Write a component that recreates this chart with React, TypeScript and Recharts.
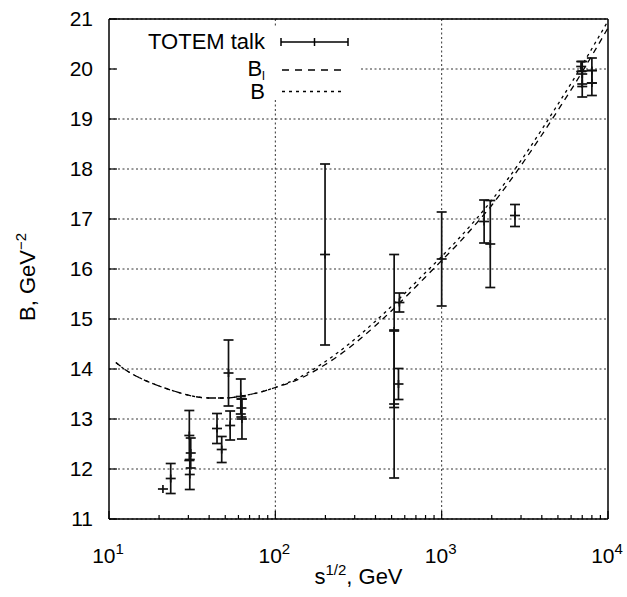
import React from 'react';
import { ComposedChart, Scatter, ErrorBar, Line, XAxis, YAxis, CartesianGrid } from 'recharts';

const FONT = '"Liberation Sans", Arial, Helvetica, sans-serif';

// TOTEM talk points: sqrt(s) in GeV, slope B in GeV^-2 and its error
const pointEnergy = [21.1, 23.5, 30.4, 31.0, 30.6, 44.6, 47.6, 52.3, 53.5, 62.0, 62.5, 63.0, 199, 518, 518, 550, 557, 1000, 1800, 1960, 2760, 6900, 7000, 7000, 8000, 8000];
const pointSlope = [11.6, 11.81, 12.67, 12.32, 11.89, 12.81, 12.39, 13.92, 12.87, 13.45, 13.22, 13.0, 16.29, 14.76, 13.3, 13.7, 15.33, 16.2, 16.95, 16.5, 17.07, 20.05, 19.9, 19.7, 19.97, 19.72];
const pointError = [0, 0.3, 0.5, 0.3, 0.3, 0.3, 0.26, 0.66, 0.29, 0.35, 0.18, 0.4, 1.81, 1.53, 1.48, 0.31, 0.19, 0.94, 0.43, 0.87, 0.22, 0.1, 0.25, 0.26, 0.25, 0.25];

// model curves
const curveEnergy = [11, 12.6, 15.8, 20, 25.1, 31.6, 39.8, 50.1, 63.1, 79.4, 100, 141, 200, 282, 398, 562, 794, 1000, 1259, 1585, 1995, 2512, 3162, 3981, 5012, 6310, 7943, 10000];
const curveB = [14.13, 13.98, 13.8, 13.66, 13.55, 13.46, 13.42, 13.42, 13.46, 13.53, 13.63, 13.84, 14.15, 14.52, 14.95, 15.42, 15.92, 16.25, 16.6, 16.97, 17.37, 17.81, 18.28, 18.78, 19.3, 19.83, 20.39, 20.96];
const curveBl = [14.13, 13.98, 13.8, 13.66, 13.55, 13.46, 13.42, 13.42, 13.46, 13.53, 13.63, 13.81, 14.09, 14.44, 14.86, 15.33, 15.83, 16.17, 16.51, 16.88, 17.27, 17.71, 18.18, 18.67, 19.18, 19.7, 20.25, 20.82];

const majorX = [10, 100, 1000, 10000];
const minorX = [20, 30, 40, 50, 60, 70, 80, 90, 200, 300, 400, 500, 600, 700, 800, 900, 2000, 3000, 4000, 5000, 6000, 7000, 8000, 9000];
const allX = [...majorX, ...minorX].sort((a, b) => a - b);
const yTicks = [11, 12, 13, 14, 15, 16, 17, 18, 19, 20, 21];

const points = pointEnergy.map((x, i) => ({ x, y: pointSlope[i], e: pointError[i] }));
const bData = curveEnergy.map((x, i) => ({ x, y: curveB[i] }));
const blData = curveEnergy.map((x, i) => ({ x, y: curveBl[i] }));

const AXIS_LINE = { stroke: '#000', strokeWidth: 1.5 };
const TICK_LINE = { stroke: '#000', strokeWidth: 1.2 };

const Cross = (p: any) => {
    const { cx, cy } = p;
    if (cx == null || cy == null) return null;
    return (
        <g stroke="#111" strokeWidth={1.7}>
            <line x1={cx - 5} y1={cy} x2={cx + 5} y2={cy} />
            <line x1={cx} y1={cy - 4} x2={cx} y2={cy + 4} />
        </g>
    );
};

// bottom axis: inward tick marks (long on decades) plus 10^n labels
const renderBottomTick = (props: any) => {
    const { x, y, payload } = props;
    const major = majorX.includes(payload.value);
    const exp = Math.round(Math.log10(payload.value));
    return (
        <g>
            <line x1={x} y1={y} x2={x} y2={y - (major ? 8 : 4)} stroke="#000" strokeWidth={1.2} />
            {major && (
                <text x={x - 1} y={y + 44} textAnchor="middle" fontSize={21} fill="#000">
                    10<tspan dy={-9} fontSize={15}>{exp}</tspan>
                </text>
            )}
        </g>
    );
};

const renderTopTick = (props: any) => {
    const { x, y, payload } = props;
    const major = majorX.includes(payload.value);
    return <line x1={x} y1={y} x2={x} y2={y + (major ? 8 : 4)} stroke="#000" strokeWidth={1.2} />;
};

const XTitle = ({ viewBox }: any) => (
    <text x={viewBox.x + viewBox.width / 2} y={viewBox.y + 65} textAnchor="middle" fontSize={22} fill="#000">
        s<tspan dy={-9} fontSize={15}>1/2</tspan><tspan dy={9}>, GeV</tspan>
    </text>
);

const YTitle = ({ viewBox }: any) => (
    <text
        transform={`translate(${viewBox.x + 35}, ${viewBox.y + viewBox.height / 2 + 8}) rotate(-90)`}
        textAnchor="middle"
        fontSize={22}
        fill="#000"
    >
        B, GeV<tspan dy={-9} fontSize={15}>−2</tspan>
    </text>
);

const KeyBox = () => (
    <svg width={627} height={597} style={{ position: 'absolute', left: 0, top: 0, pointerEvents: 'none' }}>
        <rect x={118} y={28} width={242} height={72} fill="#fff" />
        <g fontSize={22} fill="#000" textAnchor="end">
            <text x={265} y={49}>TOTEM talk</text>
            <text x={265} y={76}>B<tspan fontSize={13} dy={4}>l</tspan></text>
            <text x={265} y={99}>B</text>
        </g>
        <g stroke="#000" strokeWidth={1.5}>
            <line x1={281} y1={42} x2={348} y2={42} />
            <line x1={281} y1={38} x2={281} y2={46} />
            <line x1={348} y1={38} x2={348} y2={46} />
            <line x1={314.5} y1={38} x2={314.5} y2={46} />
            <line x1={282} y1={70} x2={347} y2={70} strokeDasharray="7 6" />
            <line x1={282} y1={91.5} x2={344} y2={91.5} strokeDasharray="3 4" />
        </g>
    </svg>
);

export default function App() {
    return (
        <div style={{ position: 'absolute', left: 0, top: 0, width: 627, height: 597, background: '#fff', fontFamily: FONT }}>
            <ComposedChart width={627} height={597} margin={{ top: 18, right: 18, bottom: 0, left: 0 }}>
                <CartesianGrid xAxisId="main" yAxisId="main" verticalValues={[100, 1000]} stroke="#333" strokeDasharray="2 2.5" />
                <XAxis
                    xAxisId="main"
                    dataKey="x"
                    type="number"
                    scale="log"
                    domain={[10, 10000]}
                    allowDataOverflow
                    ticks={allX}
                    interval={0}
                    height={78}
                    tickSize={0}
                    tickMargin={0}
                    tick={renderBottomTick}
                    tickLine={false}
                    axisLine={AXIS_LINE}
                    label={<XTitle />}
                />
                <XAxis
                    xAxisId="top"
                    orientation="top"
                    type="number"
                    scale="log"
                    domain={[10, 10000]}
                    allowDataOverflow
                    ticks={allX}
                    interval={0}
                    height={1}
                    tickSize={0}
                    tickMargin={0}
                    tick={renderTopTick}
                    tickLine={false}
                    axisLine={AXIS_LINE}
                />
                <YAxis
                    yAxisId="main"
                    dataKey="y"
                    type="number"
                    domain={[11, 21]}
                    allowDataOverflow
                    ticks={yTicks}
                    interval={0}
                    width={109}
                    tickSize={-8}
                    tickMargin={24}
                    tick={{ fontSize: 21, fill: '#000' }}
                    axisLine={AXIS_LINE}
                    tickLine={TICK_LINE}
                    label={<YTitle />}
                />
                <YAxis
                    yAxisId="right"
                    orientation="right"
                    type="number"
                    domain={[11, 21]}
                    allowDataOverflow
                    ticks={yTicks}
                    interval={0}
                    width={1}
                    tickSize={-8}
                    tick={false}
                    axisLine={AXIS_LINE}
                    tickLine={TICK_LINE}
                />
                <Line
                    xAxisId="main"
                    yAxisId="main"
                    data={blData}
                    dataKey="y"
                    type="monotone"
                    stroke="#000"
                    strokeWidth={1.3}
                    strokeDasharray="6 5"
                    dot={false}
                    activeDot={false}
                    isAnimationActive={false}
                />
                <Line
                    xAxisId="main"
                    yAxisId="main"
                    data={bData}
                    dataKey="y"
                    type="monotone"
                    stroke="#000"
                    strokeWidth={1.3}
                    strokeDasharray="3 4"
                    dot={false}
                    activeDot={false}
                    isAnimationActive={false}
                />
                <Scatter xAxisId="main" yAxisId="main" data={points} shape={Cross} isAnimationActive={false}>
                    <ErrorBar dataKey="e" direction="y" width={5} stroke="#111" strokeWidth={1.7} isAnimationActive={false} />
                </Scatter>
            </ComposedChart>
            <KeyBox />
        </div>
    );
}
